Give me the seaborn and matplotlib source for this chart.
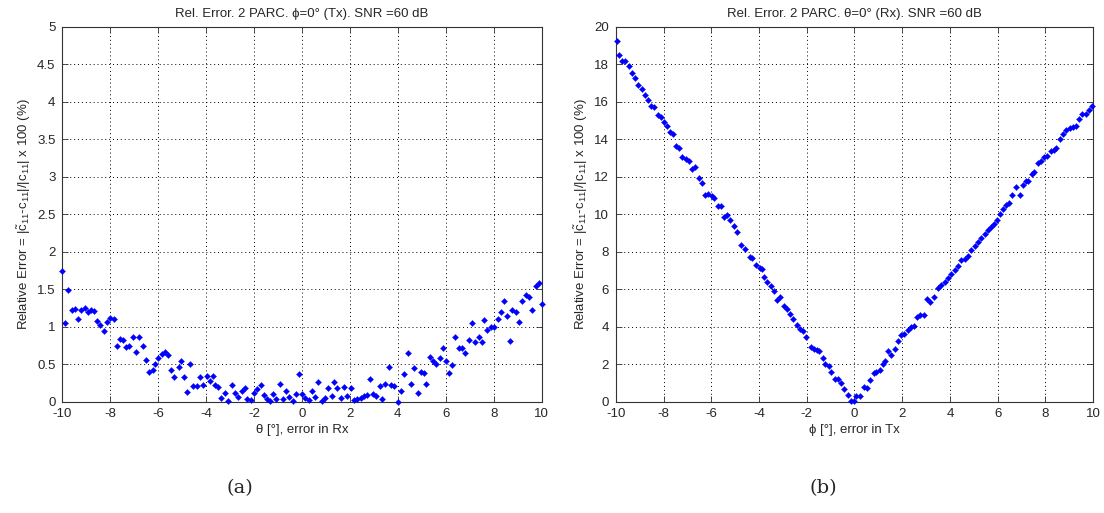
import numpy as np
import pandas as pd
import matplotlib
matplotlib.use("Agg")
import matplotlib.pyplot as plt
import seaborn as sns

# Panel (a): relative error vs. theta error in Rx
theta_err = [-10.0, -9.89, -9.77, -9.61, -9.49, -9.35, -9.21, -9.07, -8.93, -8.82, -8.70, -8.56,
             -8.42, -8.28, -8.14, -8.0, -7.86, -7.72, -7.58, -7.49, -7.35, -7.21, -7.07, -6.93,
             -6.79, -6.65, -6.51, -6.37, -6.23, -6.14, -6.0, -5.86, -5.72, -5.58, -5.46, -5.32,
             -5.15, -5.04, -4.93, -4.79, -4.68, -4.54, -4.39, -4.25, -4.11, -3.97, -3.83, -3.72,
             -3.61, -3.49, -3.38, -3.21, -3.07, -2.93, -2.79, -2.65, -2.51, -2.39, -2.28, -2.14,
             -2.0, -1.86, -1.72, -1.58, -1.44, -1.32, -1.21, -1.07, -0.93, -0.79, -0.68, -0.54,
             -0.39, -0.25, -0.11, 0.0, 0.14, 0.28, 0.42, 0.54, 0.68, 0.82, 0.96, 1.1, 1.24, 1.32,
             1.46, 1.61, 1.75, 1.89, 2.03, 2.17, 2.31, 2.45, 2.59, 2.70, 2.82, 2.96, 3.1, 3.24,
             3.34, 3.48, 3.62, 3.73, 3.85, 4.0, 4.13, 4.27, 4.41, 4.55, 4.69, 4.83, 4.97, 5.08,
             5.19, 5.33, 5.47, 5.61, 5.75, 5.89, 6.03, 6.15, 6.26, 6.40, 6.54, 6.68, 6.82, 6.96,
             7.1, 7.24, 7.38, 7.52, 7.6, 7.74, 7.88, 8.03, 8.17, 8.31, 8.42, 8.56, 8.70, 8.78,
             8.92, 9.07, 9.2, 9.34, 9.48, 9.62, 9.76, 9.90, 10.0]
rel_err_a = [1.74, 1.05, 1.49, 1.22, 1.24, 1.11, 1.22, 1.25, 1.20, 1.22, 1.21, 1.08,
             1.03, 0.95, 1.06, 1.12, 1.11, 0.75, 0.84, 0.82, 0.73, 0.75, 0.86, 0.67,
             0.86, 0.75, 0.56, 0.40, 0.42, 0.50, 0.58, 0.64, 0.67, 0.63, 0.43, 0.33,
             0.46, 0.55, 0.33, 0.13, 0.50, 0.21, 0.21, 0.33, 0.22, 0.35, 0.28, 0.34,
             0.22, 0.20, 0.05, 0.12, 0.01, 0.23, 0.12, 0.06, 0.14, 0.18, 0.04, 0.02,
             0.12, 0.17, 0.23, 0.09, 0.04, 0.01, 0.11, 0.04, 0.24, 0.04, 0.14, 0.06,
             0.01, 0.11, 0.37, 0.11, 0.05, 0.02, 0.14, 0.06, 0.27, 0.01, 0.05, 0.18, 0.08, 0.27,
             0.18, 0.05, 0.20, 0.08, 0.18, 0.02, 0.04, 0.05, 0.08, 0.09, 0.31, 0.11, 0.08, 0.21,
             0.04, 0.24, 0.46, 0.22, 0.21, 0.0, 0.15, 0.37, 0.65, 0.24, 0.45, 0.12, 0.40, 0.38,
             0.24, 0.60, 0.55, 0.50, 0.58, 0.72, 0.54, 0.38, 0.49, 0.87, 0.72, 0.72, 0.65, 0.83,
             1.05, 0.80, 0.86, 0.80, 1.09, 0.96, 1.0, 1.0, 1.11, 1.2, 1.35, 1.15, 0.81, 1.22,
             1.20, 1.06, 1.35, 1.42, 1.40, 1.22, 1.54, 1.59, 1.30]

# Panel (b): relative error vs. phi error in Tx
phi_err = [-9.97, -9.88, -9.76, -9.63, -9.46, -9.33, -9.19, -9.06, -8.92, -8.78, -8.68, -8.54,
           -8.40, -8.26, -8.13, -7.99, -7.85, -7.74, -7.63, -7.49, -7.35, -7.22, -7.07, -6.93,
           -6.82, -6.68, -6.54, -6.40, -6.26, -6.13, -5.99, -5.88, -5.74, -5.60, -5.46, -5.35,
           -5.21, -5.07, -4.93, -4.77, -4.59, -4.39, -4.28, -4.14, -3.97, -3.86, -3.79, -3.65,
           -3.51, -3.37, -3.23, -3.12, -2.95, -2.81, -2.70, -2.56, -2.43, -2.29, -2.18, -2.04,
           -1.83, -1.69, -1.59, -1.48, -1.34, -1.22, -1.08, -0.97, -0.83, -0.69, -0.56, -0.42,
           -0.28, -0.14, 0.0, 0.07, 0.21, 0.38, 0.52, 0.66, 0.80, 0.91, 1.05, 1.19, 1.30, 1.39,
           1.55, 1.69, 1.83, 1.95, 2.09, 2.23, 2.37, 2.48, 2.62, 2.76, 2.90, 3.04, 3.18, 3.32,
           3.50, 3.64, 3.78, 3.92, 4.06, 4.20, 4.34, 4.48, 4.62, 4.76, 4.90, 5.04, 5.18, 5.32,
           5.46, 5.60, 5.74, 5.86, 5.98, 6.12, 6.23, 6.37, 6.48, 6.62, 6.76, 6.93, 7.07, 7.21,
           7.29, 7.46, 7.54, 7.71, 7.82, 7.96, 8.08, 8.24, 8.35, 8.47, 8.63, 8.75, 8.89, 9.02,
           9.16, 9.30, 9.42, 9.56, 9.70, 9.83, 9.97]
rel_err_b = [19.27, 18.52, 18.16, 18.16, 17.93, 17.57, 17.27, 16.93, 16.68, 16.38, 16.09, 15.79,
             15.75, 15.32, 15.18, 14.93, 14.70, 14.39, 14.27, 13.64, 13.55, 13.05, 12.95, 12.86,
             12.43, 12.52, 11.93, 11.66, 11.05, 11.07, 10.98, 10.89, 10.46, 10.46, 9.86, 9.98,
             9.68, 9.40, 9.05, 8.37, 8.14, 7.72, 7.70, 7.31, 7.13, 7.08, 6.68, 6.42,
             6.20, 5.92, 5.44, 5.62, 5.12, 4.94, 4.69, 4.41, 4.11, 3.88, 3.79, 3.48,
             2.95, 2.83, 2.77, 2.72, 2.33, 2.03, 1.92, 1.60, 1.24, 1.24, 1.00, 0.68,
             0.37, 0.07, 0.07, 0.32, 0.32, 0.82, 0.76, 1.17, 1.56, 1.62, 1.71, 2.03, 2.20, 2.74,
             2.51, 2.83, 3.27, 3.57, 3.63, 3.84, 3.98, 4.07, 4.55, 4.62, 4.62, 5.48, 5.35, 5.62,
             6.06, 6.25, 6.42, 6.60, 6.85, 7.05, 7.25, 7.55, 7.65, 7.80, 8.10, 8.30, 8.55, 8.75,
             8.95, 9.15, 9.35, 9.50, 9.70, 10.05, 10.29, 10.52, 10.61, 11.05, 11.48, 11.05, 11.59, 11.77,
             11.77, 12.16, 12.25, 12.73, 12.84, 13.09, 13.14, 13.38, 13.46, 13.55, 14.04, 14.27, 14.48, 14.63,
             14.66, 14.70, 15.11, 15.38, 15.38, 15.55, 15.77]

x_ticks = list(range(-10, 11, 2))
y_ticks_a = [0, 0.5, 1, 1.5, 2, 2.5, 3, 3.5, 4, 4.5, 5]
y_ticks_b = list(range(0, 21, 2))

titles = ["Rel. Error. 2 PARC. ϕ=0° (Tx). SNR =60 dB",
          "Rel. Error. 2 PARC. θ=0° (Rx). SNR =60 dB"]
xlabels = ["θ [°], error in Rx", "ϕ [°], error in Tx"]
captions = ["(a)", "(b)"]
ylabel = r"Relative Error = |$\tilde{\mathrm{c}}_{11}$-c$_{11}$|/|c$_{11}$| x 100 (%)"

sns.set_style("ticks")
plt.rcParams["font.family"] = ["Liberation Sans", "DejaVu Sans"]
plt.rcParams["mathtext.fontset"] = "custom"
plt.rcParams["mathtext.rm"] = "Liberation Sans"
plt.rcParams["mathtext.it"] = "Liberation Sans:italic"
plt.rcParams["mathtext.bf"] = "Liberation Sans:bold"

fig = plt.figure(figsize=(11.04, 5.13), dpi=100)
ax_a = fig.add_axes([0.0565, 0.2164, 0.4340, 0.7310])
ax_b = fig.add_axes([0.5580, 0.2164, 0.4320, 0.7310])

panels = [
    (ax_a, pd.DataFrame({"x": theta_err, "y": rel_err_a}), (0, 5), y_ticks_a),
    (ax_b, pd.DataFrame({"x": phi_err, "y": rel_err_b}), (0, 20), y_ticks_b),
]

def fmt(v):
    return f"{v:g}"

for i, (ax, df, ylim, yt) in enumerate(panels):
    sns.scatterplot(data=df, x="x", y="y", ax=ax, marker="D", s=10,
                    color="#0000ff", edgecolor="#0000ff", linewidth=0.2, zorder=3,
                    clip_on=False)
    ax.set_xlim(-10, 10)
    ax.set_ylim(*ylim)
    ax.set_xticks(x_ticks)
    ax.set_xticklabels([fmt(v) for v in x_ticks])
    ax.set_yticks(yt)
    ax.set_yticklabels([fmt(v) for v in yt])
    ax.grid(True, linestyle=(0, (1, 3)), color="black", linewidth=0.7)
    ax.tick_params(direction="in", length=4, width=0.6, labelsize=9.5,
                   top=True, right=True, color="#333333")
    ax.tick_params(axis="x", pad=4)
    ax.tick_params(axis="y", pad=5)
    for sp in ax.spines.values():
        sp.set_visible(True)
        sp.set_linewidth(0.8)
        sp.set_color("#333333")
    ax.set_title(titles[i], fontsize=9.5, pad=7)
    ax.set_xlabel(xlabels[i], fontsize=9.5, labelpad=3)
    ax.set_ylabel(ylabel, fontsize=9.5, labelpad=3)

fig.text(0.2175, 0.038, captions[0], family="DejaVu Serif", fontsize=14, ha="center")
fig.text(0.7455, 0.038, captions[1], family="DejaVu Serif", fontsize=14, ha="center")

fig.savefig("out.png", dpi=100)
